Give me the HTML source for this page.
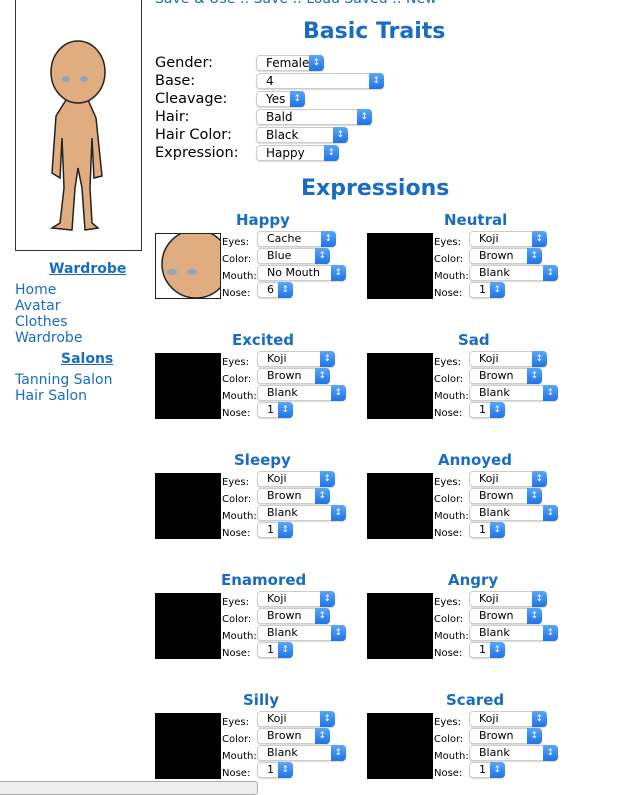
<!DOCTYPE html>
<html><head><meta charset="utf-8"><style>
*{margin:0;padding:0;box-sizing:border-box}
body{width:630px;height:788px;overflow:hidden;background:#fff;position:relative;font-family:"DejaVu Sans","Liberation Sans",sans-serif;color:#000}
.a{position:absolute;white-space:nowrap}
.lk{color:#1a6cc0;font-size:14px}
.h{color:#1a6cc0;font-weight:bold}
.s{position:absolute;height:16px;border:1px solid #ccc;border-radius:4px;background:#fff;font-size:11px;line-height:14px;padding-left:9px;box-shadow:0 1px 1px rgba(0,0,0,.15)}
.s::after{content:"";position:absolute;right:-1px;top:-1px;width:15px;height:16px;border-radius:0 4px 4px 0;background:linear-gradient(#5aa6f8,#1f73e6)}
.s::before{content:"\2195";position:absolute;right:3px;top:0px;color:#fff;z-index:2;font-size:9px}
.tl{position:absolute;font-size:14.5px}
.el{position:absolute;font-size:10px}
.img{position:absolute;width:66px;height:66px;background:#000}
</style></head><body>
<div class="a lk" style="left:155px;top:-9px">Save &amp; Use :: Save :: Load Saved :: New</div>
<div style="position:absolute;left:15px;top:-2px;width:127px;height:253px;border:1px solid #333"></div>
<svg class="a" style="left:30px;top:38px" width="90" height="195" viewBox="0 0 90 195">
<g fill="#e0ad80" stroke="#222" stroke-width="1.5">
<path d="M36 62 L26 78 L22 135 L30 140 L32 100 L34 150 L30 185 L22 190 L42 192 L45 150 L48 130 L52 150 L55 192 L68 190 L62 185 L60 150 L62 100 L64 140 L72 138 L66 80 L58 62 Z"/>
<ellipse cx="48" cy="34" rx="27" ry="31"/>
</g>
<ellipse cx="36" cy="41" rx="4" ry="3" fill="#8fa6c0"/><ellipse cx="54" cy="41" rx="4" ry="3" fill="#8fa6c0"/>
</svg>
<div class="a h" style="left:49px;top:261px;font-size:14px;text-decoration:underline">Wardrobe</div>
<div class="a lk" style="left:15px;top:282px;line-height:16px">Home<br>Avatar<br>Clothes<br>Wardrobe</div>
<div class="a h" style="left:61px;top:351px;font-size:14px;text-decoration:underline">Salons</div>
<div class="a lk" style="left:15px;top:372px;line-height:16px">Tanning Salon<br>Hair Salon</div>

<div class="a h" style="left:303px;top:19px;font-size:22px">Basic Traits</div>
<div class="tl" style="left:155px;top:54px;line-height:18px">Gender:<br>Base:<br>Cleavage:<br>Hair:<br>Hair Color:<br>Expression:</div>
<div class="s" style="left:256px;top:55px;width:68px;font-size:12px">Female</div>
<div class="s" style="left:256px;top:73px;width:128px;font-size:12px">4</div>
<div class="s" style="left:256px;top:91px;width:49px;font-size:12px">Yes</div>
<div class="s" style="left:256px;top:109px;width:116px;font-size:12px">Bald</div>
<div class="s" style="left:256px;top:127px;width:92px;font-size:12px">Black</div>
<div class="s" style="left:256px;top:145px;width:83px;font-size:12px">Happy</div>

<div class="a h" style="left:301px;top:176px;font-size:22px">Expressions</div>

<!-- Happy -->
<div class="a h" style="left:236px;top:211px;font-size:15px">Happy</div>
<div style="position:absolute;left:155px;top:233px;width:66px;height:66px;border:1px solid #222;background:#fff;overflow:hidden"><svg width="66" height="66"><ellipse cx="40" cy="30" rx="34" ry="34" fill="#e0ad80" stroke="#222" stroke-width="1.5"/><ellipse cx="16" cy="38" rx="5" ry="3" fill="#8fa6c0"/><ellipse cx="36" cy="38" rx="5" ry="3" fill="#8fa6c0"/></svg></div>
<div class="el" style="left:222px;top:237px">Eyes:</div><div class="el" style="left:222px;top:254px">Color:</div><div class="el" style="left:222px;top:271px">Mouth:</div><div class="el" style="left:222px;top:288px">Nose:</div>
<div class="s" style="left:257px;top:231px;width:79px">Cache</div><div class="s" style="left:257px;top:248px;width:73px">Blue</div><div class="s" style="left:257px;top:265px;width:89px">No Mouth</div><div class="s" style="left:257px;top:282px;width:36px">6</div>

<!-- Neutral -->
<div class="a h" style="left:444px;top:211px;font-size:15px">Neutral</div>
<div class="img" style="left:367px;top:233px"></div>
<div class="el" style="left:434px;top:237px">Eyes:</div><div class="el" style="left:434px;top:254px">Color:</div><div class="el" style="left:434px;top:271px">Mouth:</div><div class="el" style="left:434px;top:288px">Nose:</div>
<div class="s" style="left:469px;top:231px;width:78px">Koji</div><div class="s" style="left:469px;top:248px;width:73px">Brown</div><div class="s" style="left:469px;top:265px;width:89px">Blank</div><div class="s" style="left:469px;top:282px;width:36px">1</div>

<!-- row 2 -->
<div class="a h" style="left:232px;top:331px;font-size:15px">Excited</div>
<div class="img" style="left:155px;top:353px"></div>
<div class="el" style="left:222px;top:357px">Eyes:</div><div class="el" style="left:222px;top:374px">Color:</div><div class="el" style="left:222px;top:391px">Mouth:</div><div class="el" style="left:222px;top:408px">Nose:</div>
<div class="s" style="left:257px;top:351px;width:78px">Koji</div><div class="s" style="left:257px;top:368px;width:73px">Brown</div><div class="s" style="left:257px;top:385px;width:89px">Blank</div><div class="s" style="left:257px;top:402px;width:36px">1</div>
<div class="a h" style="left:458px;top:331px;font-size:15px">Sad</div>
<div class="img" style="left:367px;top:353px"></div>
<div class="el" style="left:434px;top:357px">Eyes:</div><div class="el" style="left:434px;top:374px">Color:</div><div class="el" style="left:434px;top:391px">Mouth:</div><div class="el" style="left:434px;top:408px">Nose:</div>
<div class="s" style="left:469px;top:351px;width:78px">Koji</div><div class="s" style="left:469px;top:368px;width:73px">Brown</div><div class="s" style="left:469px;top:385px;width:89px">Blank</div><div class="s" style="left:469px;top:402px;width:36px">1</div>

<!-- row 3 -->
<div class="a h" style="left:234px;top:451px;font-size:15px">Sleepy</div>
<div class="img" style="left:155px;top:473px"></div>
<div class="el" style="left:222px;top:477px">Eyes:</div><div class="el" style="left:222px;top:494px">Color:</div><div class="el" style="left:222px;top:511px">Mouth:</div><div class="el" style="left:222px;top:528px">Nose:</div>
<div class="s" style="left:257px;top:471px;width:78px">Koji</div><div class="s" style="left:257px;top:488px;width:73px">Brown</div><div class="s" style="left:257px;top:505px;width:89px">Blank</div><div class="s" style="left:257px;top:522px;width:36px">1</div>
<div class="a h" style="left:438px;top:451px;font-size:15px">Annoyed</div>
<div class="img" style="left:367px;top:473px"></div>
<div class="el" style="left:434px;top:477px">Eyes:</div><div class="el" style="left:434px;top:494px">Color:</div><div class="el" style="left:434px;top:511px">Mouth:</div><div class="el" style="left:434px;top:528px">Nose:</div>
<div class="s" style="left:469px;top:471px;width:78px">Koji</div><div class="s" style="left:469px;top:488px;width:73px">Brown</div><div class="s" style="left:469px;top:505px;width:89px">Blank</div><div class="s" style="left:469px;top:522px;width:36px">1</div>

<!-- row 4 -->
<div class="a h" style="left:221px;top:571px;font-size:15px">Enamored</div>
<div class="img" style="left:155px;top:593px"></div>
<div class="el" style="left:222px;top:597px">Eyes:</div><div class="el" style="left:222px;top:614px">Color:</div><div class="el" style="left:222px;top:631px">Mouth:</div><div class="el" style="left:222px;top:648px">Nose:</div>
<div class="s" style="left:257px;top:591px;width:78px">Koji</div><div class="s" style="left:257px;top:608px;width:73px">Brown</div><div class="s" style="left:257px;top:625px;width:89px">Blank</div><div class="s" style="left:257px;top:642px;width:36px">1</div>
<div class="a h" style="left:448px;top:571px;font-size:15px">Angry</div>
<div class="img" style="left:367px;top:593px"></div>
<div class="el" style="left:434px;top:597px">Eyes:</div><div class="el" style="left:434px;top:614px">Color:</div><div class="el" style="left:434px;top:631px">Mouth:</div><div class="el" style="left:434px;top:648px">Nose:</div>
<div class="s" style="left:469px;top:591px;width:78px">Koji</div><div class="s" style="left:469px;top:608px;width:73px">Brown</div><div class="s" style="left:469px;top:625px;width:89px">Blank</div><div class="s" style="left:469px;top:642px;width:36px">1</div>

<!-- row 5 -->
<div class="a h" style="left:243px;top:691px;font-size:15px">Silly</div>
<div class="img" style="left:155px;top:713px"></div>
<div class="el" style="left:222px;top:717px">Eyes:</div><div class="el" style="left:222px;top:734px">Color:</div><div class="el" style="left:222px;top:751px">Mouth:</div><div class="el" style="left:222px;top:768px">Nose:</div>
<div class="s" style="left:257px;top:711px;width:78px">Koji</div><div class="s" style="left:257px;top:728px;width:73px">Brown</div><div class="s" style="left:257px;top:745px;width:89px">Blank</div><div class="s" style="left:257px;top:762px;width:36px">1</div>
<div class="a h" style="left:446px;top:691px;font-size:15px">Scared</div>
<div class="img" style="left:367px;top:713px"></div>
<div class="el" style="left:434px;top:717px">Eyes:</div><div class="el" style="left:434px;top:734px">Color:</div><div class="el" style="left:434px;top:751px">Mouth:</div><div class="el" style="left:434px;top:768px">Nose:</div>
<div class="s" style="left:469px;top:711px;width:78px">Koji</div><div class="s" style="left:469px;top:728px;width:73px">Brown</div><div class="s" style="left:469px;top:745px;width:89px">Blank</div><div class="s" style="left:469px;top:762px;width:36px">1</div>

<div style="position:absolute;left:-4px;top:781px;width:262px;height:14px;border:1px solid #aaa;border-radius:3px;background:#eee"></div>
</body></html>
